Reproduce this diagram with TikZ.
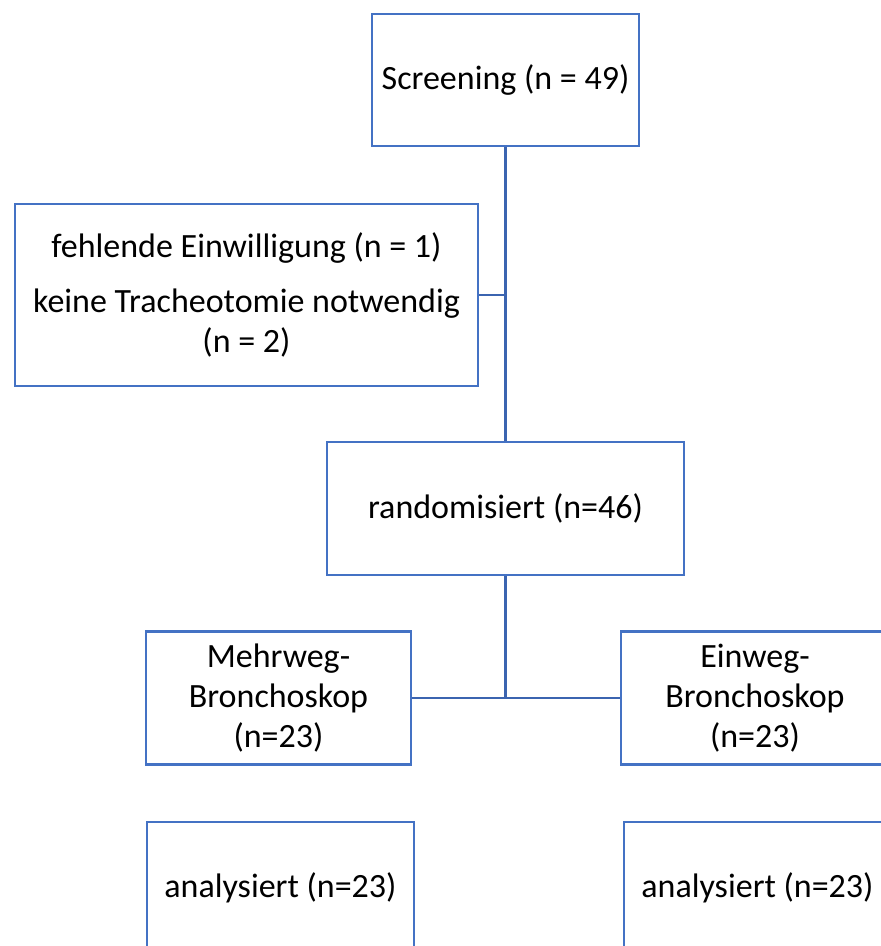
\documentclass[tikz,border=0pt]{standalone}
\usepackage{fontspec}
\setmainfont{Carlito}
\definecolor{boxblue}{RGB}{68,114,196}
\definecolor{lineblue}{RGB}{59,100,176}
\begin{document}
\begin{tikzpicture}[x=1pt,y=-1pt,
  flowbox/.style={draw=boxblue,line width=2.4pt,rectangle,inner sep=0pt,
    align=center,font=\fontsize{34}{40}\selectfont,text=black},
  conn/.style={draw=lineblue,line width=2.6pt}]
\useasboundingbox (0,0) rectangle (881,946);
\clip (0,0) rectangle (881,946);
\node[flowbox,minimum width=267pt,minimum height=132pt] (scr) at (505.5,80) {Screening (n = 49)};
\node[flowbox,minimum width=463pt,minimum height=182pt] (excl) at (246.5,295) {fehlende Einwilligung (n = 1)\\[15pt]keine Tracheotomie notwendig\\(n = 2)};
\node[flowbox,minimum width=357pt,minimum height=133pt] (rand) at (505.5,508.5) {randomisiert (n=46)};
\node[flowbox,minimum width=265pt,minimum height=133pt] (mehr) at (278.5,698) {Mehrweg-\\Bronchoskop\\(n=23)};
\node[flowbox,minimum width=268pt,minimum height=133pt] (einw) at (755,698) {Einweg-\\Bronchoskop\\(n=23)};
\node[flowbox,minimum width=267pt,minimum height=132pt] (anal) at (280.5,888) {analysiert (n=23)};
\node[flowbox,minimum width=267pt,minimum height=132pt] (anar) at (757.5,888) {analysiert (n=23)};
\coordinate (split) at (rand.south |- mehr.east);
\draw[conn] (scr.south) -- (rand.north);
\draw[conn] (excl.east) -- (excl.east -| scr.south);
\draw[conn] (rand.south) -- (split);
\draw[conn] (mehr.east) -- (einw.west);
\end{tikzpicture}
\end{document}
